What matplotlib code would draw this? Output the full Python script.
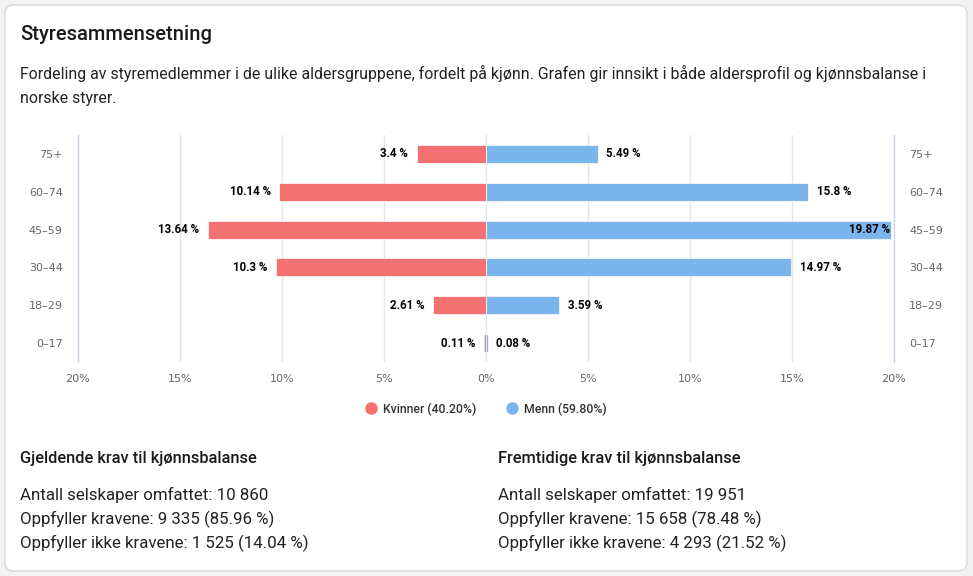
import matplotlib
matplotlib.use("Agg")
import matplotlib.pyplot as plt
from matplotlib.patches import FancyBboxPatch
from matplotlib.lines import Line2D

# ---- data ----
age_groups = ["0–17", "18–29", "30–44", "45–59", "60–74", "75+"]
women = [0.11, 2.61, 10.3, 13.64, 10.14, 3.4]
men = [0.08, 3.59, 14.97, 19.87, 15.8, 5.49]
x_ticks = [-20, -15, -10, -5, 0, 5, 10, 15, 20]
x_tick_labels = ["20%", "15%", "10%", "5%", "0%", "5%", "10%", "15%", "20%"]
legend_labels = ["Kvinner (40.20%)", "Menn (59.80%)"]

title = "Styresammensetning"
subtitle_lines = [
    "Fordeling av styremedlemmer i de ulike aldersgruppene, fordelt på kjønn. Grafen gir innsikt i både aldersprofil og kjønnsbalanse i",
    "norske styrer.",
]
left_heading = "Gjeldende krav til kjønnsbalanse"
left_lines = ["Antall selskaper omfattet: 10 860",
              "Oppfyller kravene: 9 335 (85.96 %)",
              "Oppfyller ikke kravene: 1 525 (14.04 %)"]
right_heading = "Fremtidige krav til kjønnsbalanse"
right_lines = ["Antall selskaper omfattet: 19 951",
               "Oppfyller kravene: 15 658 (78.48 %)",
               "Oppfyller ikke kravene: 4 293 (21.52 %)"]

RED = "#f47171"
BLUE = "#7cb5ec"

W, H = 973, 576
fig = plt.figure(figsize=(W / 100, H / 100), dpi=100)
fig.patch.set_facecolor("#f3f3f3")

card = FancyBboxPatch((5, 5), 962, 566, boxstyle="round,pad=0,rounding_size=8",
                      transform=None, facecolor="white", edgecolor="#d9d9d9",
                      linewidth=1.0, zorder=-10)
fig.patches.append(card)

def fx(px):
    return px / W

def fy(py):
    return 1 - py / H

body_font = ["Roboto", "DejaVu Sans"]

fig.text(fx(20), fy(34), title, fontsize=14.5, fontweight="medium",
         family=body_font, color="#1a1a1a", va="center", ha="left")
for i, line in enumerate(subtitle_lines):
    fig.text(fx(20), fy(73 + 26 * i), line, fontsize=11.45, family=body_font,
             color="#222222", va="center", ha="left")

ax = fig.add_axes([fx(78), fy(362), (894 - 78) / W, (362 - 135) / H])
ax.set_facecolor("none")
ypos = list(range(len(age_groups)))
ax.barh(ypos, [-v for v in women], height=0.48, color=RED, edgecolor="white",
        linewidth=0.5, zorder=3)
ax.barh(ypos, men, height=0.48, color=BLUE, edgecolor="white",
        linewidth=0.5, zorder=3)

ax.set_xlim(-20, 20)
ax.set_ylim(-0.5, len(age_groups) - 0.5)
ax.set_xticks(x_ticks)
ax.set_xticklabels(x_tick_labels)
ax.set_yticks(ypos)
ax.set_yticklabels(age_groups)
ax.tick_params(axis="y", length=0, pad=11, labelsize=8, labelcolor="#666666",
               labelright=True, labelleft=True)
ax.tick_params(axis="x", length=0, pad=9, labelsize=8, labelcolor="#666666")
ax.grid(axis="x", color="#e6e6e6", linewidth=1, zorder=0)
ax.set_axisbelow(True)
for s in ["top", "bottom"]:
    ax.spines[s].set_visible(False)
for s in ["left", "right"]:
    ax.spines[s].set_color("#ccd6eb")
    ax.spines[s].set_linewidth(1)

lab_kw = dict(fontsize=8.3, fontweight="bold", family=body_font, color="black",
              va="center", textcoords="offset points", zorder=5)
for y, v in zip(ypos, women):
    ax.annotate(f"{v:g} %", (-v, y), xytext=(-6, 0), ha="right", **lab_kw)
for y, v in zip(ypos, men):
    if v > 19:
        ax.annotate(f"{v:g} %", (v, y), xytext=(-1, 0), ha="right", **lab_kw)
    else:
        ax.annotate(f"{v:g} %", (v, y), xytext=(6, 0), ha="left", **lab_kw)

handles = [Line2D([], [], marker="o", linestyle="none", markersize=8,
                  markerfacecolor=c, markeredgecolor=c) for c in (RED, BLUE)]
leg = fig.legend(handles, legend_labels, loc="center", ncol=2,
                 bbox_to_anchor=(fx(486), fy(409)), frameon=False,
                 handletextpad=0.5, columnspacing=2.4, handlelength=1.0,
                 prop={"size": 8.8, "weight": "medium", "family": body_font})
for t in leg.get_texts():
    t.set_color("#333333")

for x0, head, lines in [(20, left_heading, left_lines), (498, right_heading, right_lines)]:
    fig.text(fx(x0), fy(459), head, fontsize=11.8, fontweight="medium",
             family=body_font, color="#1a1a1a", va="center", ha="left")
    for i, line in enumerate(lines):
        fig.text(fx(x0), fy(495 + 24 * i), line, fontsize=12.2, family=body_font,
                 color="#222222", va="center", ha="left")

fig.savefig("out.png", dpi=100, facecolor=fig.get_facecolor())
